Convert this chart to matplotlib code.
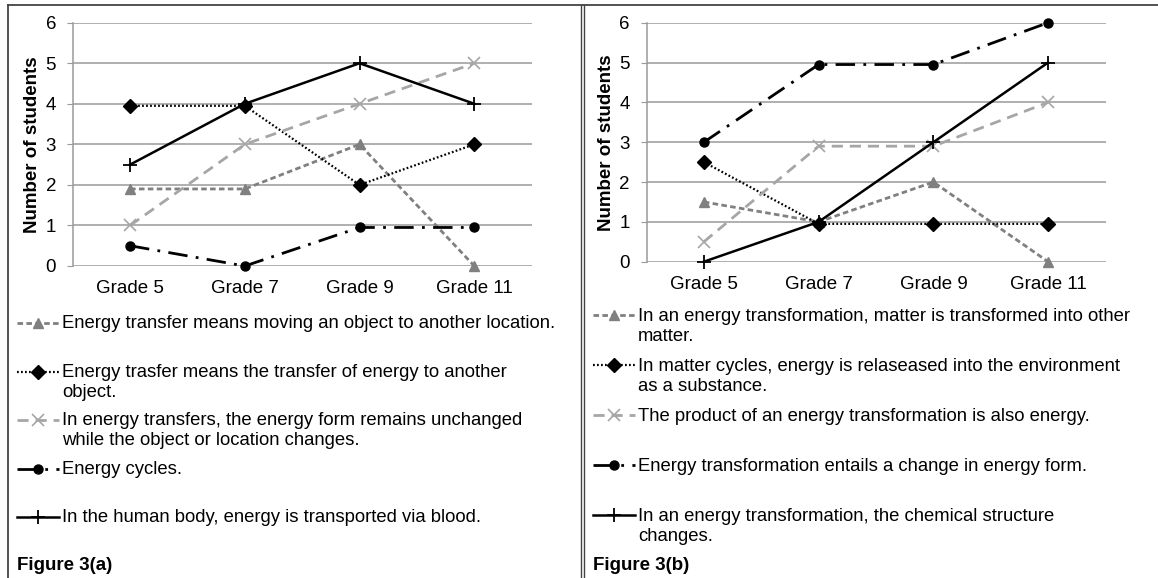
import matplotlib
matplotlib.use("Agg")
import matplotlib.pyplot as plt
from matplotlib.lines import Line2D

plt.rcParams['font.family'] = ['Liberation Sans', 'DejaVu Sans']

W, H = 1158, 578

grades = ['Grade 5', 'Grade 7', 'Grade 9', 'Grade 11']

# Figure 3(a)
a_move = [1.9, 1.9, 3, 0]
a_transfer = [3.95, 3.95, 2, 3]
a_form = [1, 3, 4, 5]
a_cycles = [0.5, 0, 0.95, 0.95]
a_blood = [2.5, 4, 5, 4]
labels_a = ['Energy transfer means moving an object to another location.',
            'Energy trasfer means the transfer of energy to another\nobject.',
            'In energy transfers, the energy form remains unchanged\nwhile the object or location changes.',
            'Energy cycles.',
            'In the human body, energy is transported via blood.']

# Figure 3(b)
b_matter = [1.5, 1, 2, 0]
b_released = [2.5, 0.95, 0.95, 0.95]
b_product = [0.5, 2.9, 2.9, 4]
b_form = [3, 4.95, 4.95, 6]
b_chem = [0, 1, 3, 5]
labels_b = ['In an energy transformation, matter is transformed into other\nmatter.',
            'In matter cycles, energy is relaseased into the environment\nas a substance.',
            'The product of an energy transformation is also energy.',
            'Energy transformation entails a change in energy form.',
            'In an energy transformation, the chemical structure\nchanges.']

# line styles for the five series (same order in both panels)
styles = [
    dict(color='#808080', ls=(0, (2.0, 1.2)), lw=2, marker='^', ms=7, mfc='#808080', mec='#808080'),
    dict(color='black', ls=(0, (0.8, 1.0)), lw=1.6, marker='D', ms=7, mfc='black', mec='black'),
    dict(color='#a6a6a6', ls=(0, (4.0, 2.5)), lw=2, marker='x', ms=8, mfc='none', mec='#a6a6a6', mew=1.2),
    dict(color='black', ls=(0, (7.0, 3.0, 1.0, 3.0)), lw=2, marker='o', ms=6.5, mfc='black', mec='black'),
    dict(color='black', ls='-', lw=1.8, marker='+', ms=10, mfc='black', mec='black', mew=1.3),
]


def px(x, y):
    return x / W, 1 - y / H


def draw_panel(ax, series):
    for vals, st in zip(series, styles):
        ax.plot(range(len(grades)), vals, clip_on=False, zorder=3, **st)
    ax.set_xlim(-0.5, 3.5)
    ax.set_ylim(0, 6)
    ax.set_yticks(range(7))
    ax.set_xticks(range(4))
    ax.set_xticklabels(grades)
    ax.grid(axis='y', color='#9a9a9a', lw=1.1)
    ax.set_axisbelow(True)
    for s in ['top', 'right', 'bottom']:
        ax.spines[s].set_visible(False)
    ax.spines['left'].set_color('#9a9a9a')
    ax.spines['left'].set_linewidth(1.1)
    ax.tick_params(axis='x', length=0, pad=10, labelsize=13.5)
    ax.tick_params(axis='y', length=4, color='#9a9a9a', pad=8, labelsize=13.5)
    ax.set_ylabel('Number of students', fontsize=13.5, fontweight='bold', labelpad=3)


def draw_legend(fig, x0, x1, tx, ys, labels, dy):
    for y, lab, st in zip(ys, labels, styles):
        xa, ya = px(x0, y)
        xb, _ = px(x1, y)
        line_st = {k: v for k, v in st.items() if k not in ('marker', 'ms', 'mfc', 'mec', 'mew')}
        fig.add_artist(Line2D([xa, xb], [ya, ya], **line_st))
        mk = {k: v for k, v in st.items() if k in ('marker', 'ms', 'mfc', 'mec', 'mew')}
        fig.add_artist(Line2D([(xa + xb) / 2], [ya], ls='none', **mk))
        fig.text(tx / W, ya + dy / H, lab, fontsize=13.3, va='top',
                 ha='left', linespacing=1.2)


fig = plt.figure(figsize=(W / 100, H / 100), dpi=100)

ax1 = fig.add_axes([72.7 / W, 1 - 266 / H, 459 / W, 243.3 / H])
draw_panel(ax1, [a_move, a_transfer, a_form, a_cycles, a_blood])

ax2 = fig.add_axes([646.5 / W, 1 - 261.7 / H, 459 / W, 239 / H])
draw_panel(ax2, [b_matter, b_released, b_product, b_form, b_chem])

draw_legend(fig, 17, 59, 62, [323, 372, 420, 469, 517], labels_a, 8)
draw_legend(fig, 593, 635, 638, [315, 365, 415, 465, 515], labels_b, 7)

fig.text(17 / W, 1 - 565 / H, 'Figure 3(a)', fontsize=13.5, fontweight='bold', va='center')
fig.text(593 / W, 1 - 565 / H, 'Figure 3(b)', fontsize=13.5, fontweight='bold', va='center')

# frame lines
fig.add_artist(Line2D([8 / W, 1], [1 - 4.5 / H] * 2, color='#444444', lw=1.3))
fig.add_artist(Line2D([8 / W] * 2, [1 - 4.5 / H, 0], color='#444444', lw=1.3))
fig.add_artist(Line2D([581 / W] * 2, [1 - 4.5 / H, 0], color='#444444', lw=1.0))
fig.add_artist(Line2D([583.5 / W] * 2, [1 - 4.5 / H, 0], color='#444444', lw=1.0))

fig.savefig('out.png', dpi=100)
